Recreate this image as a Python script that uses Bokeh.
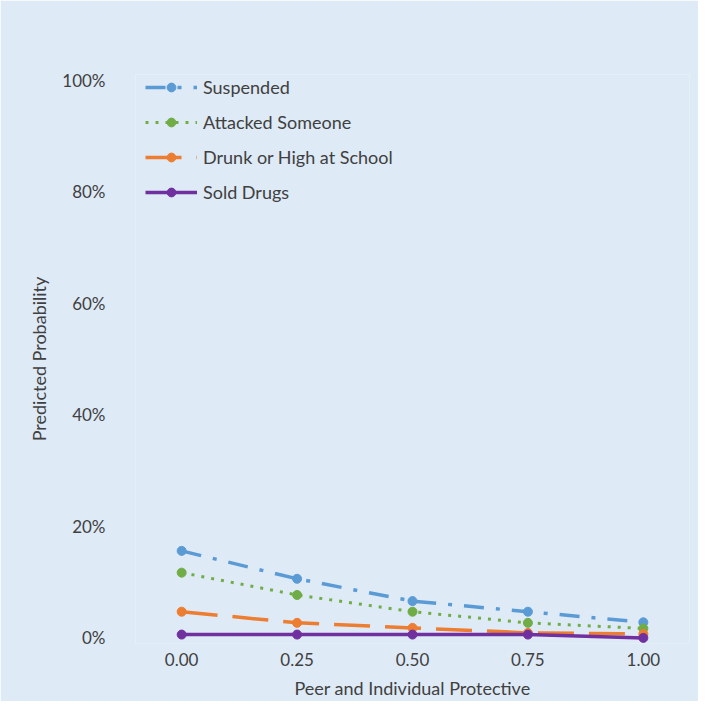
from bokeh.plotting import figure
from bokeh.models import Range1d, FixedTicker
from bokeh.embed import file_html
from bokeh.resources import INLINE

x_vals = [0.0, 0.25, 0.5, 0.75, 1.0]
x_tick_labels = ["0.00", "0.25", "0.50", "0.75", "1.00"]
y_ticks = [0.0, 0.2, 0.4, 0.6, 0.8, 1.0]
y_tick_labels = ["0%", "20%", "40%", "60%", "80%", "100%"]

suspended = [0.156, 0.106, 0.066, 0.047, 0.028]
attacked = [0.117, 0.077, 0.047, 0.027, 0.017]
drunk = [0.047, 0.027, 0.018, 0.009, 0.007]
sold = [0.006, 0.006, 0.006, 0.006, 0.0]

series_names = ["Suspended", "Attacked Someone", "Drunk or High at School", "Sold Drugs"]

BG = "#DEEAF6"
TXT = "#404040"
FONT = "Lato"

p = figure(width=698, height=701, output_backend="svg", toolbar_location=None,
           x_range=Range1d(-0.1, 1.1), y_range=Range1d(-0.01, 1.01),
           min_border_left=135, min_border_right=9, min_border_top=74, min_border_bottom=58)
p.background_fill_color = BG
p.border_fill_color = BG
p.outline_line_color = None
p.grid.visible = False

styles = [
    ("#5B9BD5", "20 12 4 12", 3.5, suspended),
    ("#70AD47", "3 7", 3, attacked),
    ("#ED7D31", "36 15", 3.5, drunk),
    ("#7030A0", "solid", 3.5, sold),
]
for name, (col, dash, lw, ys) in zip(series_names, styles):
    p.line(x_vals, ys, line_color=col, line_width=lw, line_dash=dash, legend_label=name)
    p.scatter(x_vals, ys, size=9, fill_color=col, line_color=col, legend_label=name)

p.xaxis.ticker = FixedTicker(ticks=x_vals)
p.xaxis.major_label_overrides = {v: l for v, l in zip(x_vals, x_tick_labels)}
p.yaxis.ticker = FixedTicker(ticks=y_ticks)
p.yaxis.major_label_overrides = {v: l for v, l in zip(y_ticks, y_tick_labels)}

for ax in (p.xaxis, p.yaxis):
    ax.axis_line_color = None
    ax.major_tick_line_color = None
    ax.minor_tick_line_color = None
    ax.major_tick_out = 0
    ax.major_tick_in = 0
    ax.major_label_text_font = FONT
    ax.major_label_text_font_size = "17px"
    ax.major_label_text_color = TXT
    ax.major_label_text_line_height = 1.0
    ax.axis_label_text_font = FONT
    ax.axis_label_text_font_size = "18px"
    ax.axis_label_text_font_style = "normal"
    ax.axis_label_text_color = TXT
    ax.axis_label_text_line_height = 1.0

p.xaxis.axis_label = "Peer and Individual Protective"
p.yaxis.axis_label = "Predicted Probability"
p.xaxis.major_label_standoff = 9
p.xaxis.axis_label_standoff = 8
p.yaxis.major_label_standoff = 30
p.yaxis.axis_label_standoff = 9

leg = p.legend[0]
leg.location = (10, 440)
leg.background_fill_alpha = 0
leg.border_line_color = None
leg.padding = 0
leg.margin = 0
leg.spacing = 13
leg.glyph_width = 52
leg.glyph_height = 22
leg.label_height = 22
leg.label_standoff = 6
leg.label_text_font = FONT
leg.label_text_font_size = "18px"
leg.label_text_color = TXT
leg.label_text_line_height = 1.0

open("out.html", "w").write(file_html(p, INLINE))
